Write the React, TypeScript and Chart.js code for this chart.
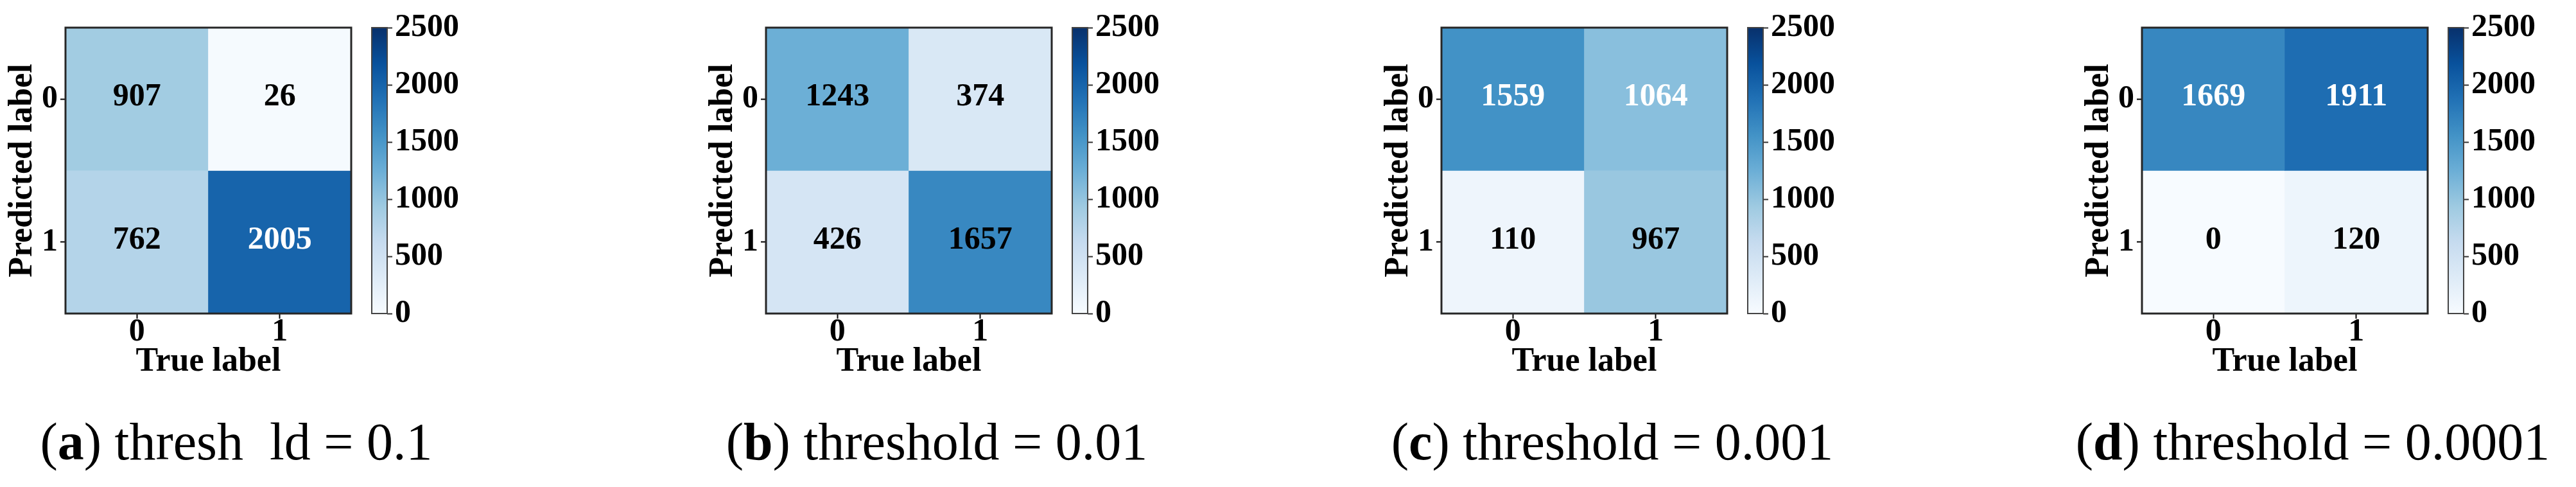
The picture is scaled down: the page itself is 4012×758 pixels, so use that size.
import React, { useEffect, useRef } from 'react';
import { Chart, registerables } from 'chart.js';

Chart.register(...registerables);

// ---------- data ----------
const trueLabels = ['0', '1'];
const predictedLabels = ['0', '1'];
const colorbarTicks = [0, 500, 1000, 1500, 2000, 2500];

const matrixA = [[907, 26], [762, 2005]];
const matrixB = [[1243, 374], [426, 1657]];
const matrixC = [[1559, 1064], [110, 967]];
const matrixD = [[1669, 1911], [0, 120]];

const panelLetters = ['a', 'b', 'c', 'd'];
const captionTexts = [' thresh  ld = 0.1', ' threshold = 0.01', ' threshold = 0.001', ' threshold = 0.0001'];
const xAxisTitle = 'True label';
const yAxisTitle = 'Predicted label';

// ---------- style ----------
const lightTextA = [[false, false], [false, true]];
const lightTextB = [[false, false], [false, false]];
const lightTextC = [[true, true], [false, false]];
const lightTextD = [[true, true], [false, false]];

const BLUES = ['#f7fbff', '#deebf7', '#c6dbef', '#9ecae1', '#6baed6', '#4292c6', '#2171b5', '#08519c', '#08306b'];
const FAMILY = '"Liberation Serif", "Times New Roman", serif';

function hexToRgb(h: string) {
  return [parseInt(h.slice(1, 3), 16), parseInt(h.slice(3, 5), 16), parseInt(h.slice(5, 7), 16)];
}

function blues(t: number) {
  const v = Math.max(0, Math.min(1, t)) * (BLUES.length - 1);
  const i = Math.min(BLUES.length - 2, Math.floor(v));
  const f = v - i;
  const a = hexToRgb(BLUES[i]);
  const b = hexToRgb(BLUES[i + 1]);
  const c = a.map((x, k) => Math.round(x + (b[k] - x) * f));
  return `rgb(${c[0]},${c[1]},${c[2]})`;
}

const tickFont = { family: FAMILY, size: 50, weight: 'bold' as const, lineHeight: 1 };
const titleFont = { family: FAMILY, size: 52, weight: 'bold' as const, lineHeight: 1.2 };

function Panel({ left, matrix, light, letter, caption }: any) {
  const hmRef = useRef<HTMLCanvasElement>(null);
  const cbRef = useRef<HTMLCanvasElement>(null);

  useEffect(() => {
    const vmin = colorbarTicks[0];
    const vmax = colorbarTicks[colorbarTicks.length - 1];

    const cellPlugin = {
      id: 'cellText',
      afterDatasetsDraw(chart: any) {
        const { ctx, chartArea: a } = chart;
        const xs = chart.scales.x;
        const ys = chart.scales.y;
        ctx.save();
        ctx.font = `bold 50px ${FAMILY}`;
        ctx.textAlign = 'center';
        ctx.textBaseline = 'middle';
        matrix.forEach((row: number[], r: number) =>
          row.forEach((v: number, c: number) => {
            ctx.fillStyle = light[r][c] ? '#ffffff' : '#000000';
            ctx.fillText(String(v), xs.getPixelForValue(c), ys.getPixelForValue(r) - 3);
          })
        );
        ctx.strokeStyle = '#262626';
        ctx.lineWidth = 3;
        ctx.strokeRect(a.left, a.top, a.right - a.left, a.bottom - a.top);
        ctx.restore();
      },
    };

    const hm = new Chart(hmRef.current!, {
      type: 'bar',
      data: {
        labels: trueLabels,
        datasets: predictedLabels.map((_, r) => ({
          data: trueLabels.map(() => [r - 0.5, r + 0.5]) as any,
          backgroundColor: trueLabels.map((_, c) => blues((matrix[r][c] - vmin) / (vmax - vmin))),
          barPercentage: 1,
          categoryPercentage: 1,
          borderWidth: 0,
        })),
      },
      options: {
        animation: false,
        responsive: false,
        maintainAspectRatio: false,
        layout: { padding: { top: 43, right: 3, bottom: 0, left: 0 } },
        plugins: { legend: { display: false }, tooltip: { enabled: false } },
        scales: {
          x: {
            stacked: true,
            offset: true,
            grid: { offset: false, drawOnChartArea: false, tickLength: 8, tickWidth: 2, tickColor: '#000' },
            border: { display: false },
            ticks: { font: tickFont, color: '#000', padding: -4, maxRotation: 0 },
            title: { display: true, text: xAxisTitle, font: titleFont, color: '#000', padding: { top: 0, bottom: 5 } },
            afterFit: (s: any) => { s.height = 112; },
          },
          y: {
            type: 'linear',
            reverse: true,
            min: -0.5,
            max: 1.5,
            afterBuildTicks: (s: any) => { s.ticks = predictedLabels.map((_, i) => ({ value: i })); },
            grid: { drawOnChartArea: false, tickLength: 8, tickWidth: 2, tickColor: '#000' },
            border: { display: false },
            ticks: { font: tickFont, color: '#000', padding: 4, callback: (v: any) => predictedLabels[v] },
            title: { display: true, text: yAxisTitle, font: titleFont, color: '#000', padding: { top: 4, bottom: 0 } },
            afterFit: (s: any) => { s.width = 102; },
          },
        },
      } as any,
      plugins: [cellPlugin],
    });

    const borderPlugin = {
      id: 'cbBorder',
      afterDatasetsDraw(chart: any) {
        const { ctx, chartArea: a } = chart;
        ctx.save();
        ctx.strokeStyle = '#444';
        ctx.lineWidth = 2;
        ctx.strokeRect(a.left, a.top, a.right - a.left, a.bottom - a.top);
        ctx.restore();
      },
    };

    const cb = new Chart(cbRef.current!, {
      type: 'bar',
      data: {
        labels: [''],
        datasets: [
          {
            data: [[vmin, vmax]] as any,
            backgroundColor: (ctx: any) => {
              const ca = ctx.chart.chartArea;
              if (!ca) return BLUES[4];
              const g = ctx.chart.ctx.createLinearGradient(0, ca.bottom, 0, ca.top);
              BLUES.forEach((col, i) => g.addColorStop(i / (BLUES.length - 1), col));
              return g;
            },
            barPercentage: 1,
            categoryPercentage: 1,
            borderWidth: 0,
          },
        ],
      },
      options: {
        animation: false,
        responsive: false,
        maintainAspectRatio: false,
        layout: { padding: { top: 43, right: 0, bottom: 52, left: 4 } },
        plugins: { legend: { display: false }, tooltip: { enabled: false } },
        scales: {
          x: { display: false },
          y: {
            position: 'right',
            min: vmin,
            max: vmax,
            afterBuildTicks: (s: any) => { s.ticks = colorbarTicks.map((v) => ({ value: v })); },
            grid: { drawOnChartArea: false, tickLength: 8, tickWidth: 2, tickColor: '#333' },
            border: { display: false },
            ticks: { font: tickFont, color: '#000', padding: 4, callback: (v: any) => String(v) },
            afterFit: (s: any) => { s.width = 160; },
          },
        },
      } as any,
      plugins: [borderPlugin],
    });

    return () => {
      hm.destroy();
      cb.destroy();
    };
  }, []);

  return (
    <>
      <canvas ref={hmRef} width={550} height={600} style={{ position: 'absolute', left: left - 102, top: 0 }} />
      <canvas ref={cbRef} width={188} height={540} style={{ position: 'absolute', left: left + 473, top: 0 }} />
      <div
        style={{
          position: 'absolute',
          left: left + 266 - 450,
          top: 647,
          width: 900,
          textAlign: 'center',
          fontFamily: FAMILY,
          fontSize: 82,
          lineHeight: '82px',
          whiteSpace: 'pre',
          color: '#000',
        }}
      >
        (<b>{letter}</b>){caption}
      </div>
    </>
  );
}

const panelLefts = [102, 1193, 2245, 3336];
const matrices = [matrixA, matrixB, matrixC, matrixD];
const lights = [lightTextA, lightTextB, lightTextC, lightTextD];

export default function App() {
  return (
    <div style={{ position: 'absolute', left: 0, top: 0, width: 4012, height: 758, background: '#fff', overflow: 'hidden' }}>
      {panelLefts.map((l, i) => (
        <Panel key={i} left={l} matrix={matrices[i]} light={lights[i]} letter={panelLetters[i]} caption={captionTexts[i]} />
      ))}
    </div>
  );
}
